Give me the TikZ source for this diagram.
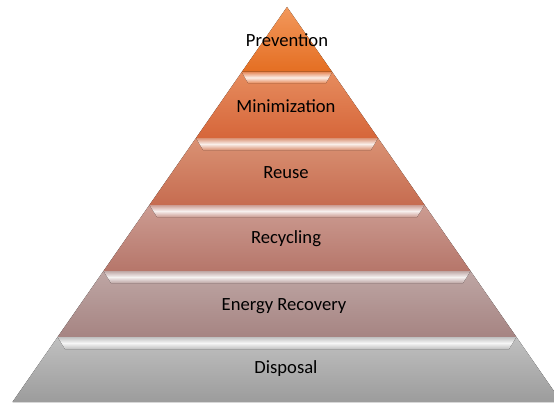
\documentclass[tikz,border=0pt]{standalone}
\usepackage{fontspec}
\setmainfont{Carlito}
\usetikzlibrary{positioning}

\definecolor{prevtop}{RGB}{242,152,92}
\definecolor{prevbot}{RGB}{228,110,34}
\definecolor{mintop}{RGB}{230,140,94}
\definecolor{minbot}{RGB}{214,102,58}
\definecolor{reusetop}{RGB}{218,146,116}
\definecolor{reusebot}{RGB}{198,108,80}
\definecolor{recytop}{RGB}{204,156,146}
\definecolor{recybot}{RGB}{182,118,106}
\definecolor{energytop}{RGB}{190,166,164}
\definecolor{energybot}{RGB}{166,132,130}
\definecolor{disptop}{RGB}{192,192,192}
\definecolor{dispbot}{RGB}{156,156,156}

\begin{document}
\begin{tikzpicture}[x=1pt, y=-1pt,
    band/.style={top color=#1, bottom color=#1, middle color=white!85!#1},
    lbl/.style={font=\fontsize{18.6}{22}\selectfont, text=black, inner sep=0pt}]
  \useasboundingbox (0,0) rectangle (554,404);
  \clip (0,0) rectangle (554,404);

  % levels, top to bottom
  \fill[top color=prevtop, bottom color=prevbot]
    (287,7) -- (332.2,72) -- (241.8,72) -- cycle;
  \fill[top color=mintop, bottom color=minbot]
    (241.8,72) -- (332.2,72) -- (378,138) -- (196,138) -- cycle;
  \fill[top color=reusetop, bottom color=reusebot]
    (196,138) -- (378,138) -- (424.6,205) -- (149.4,205) -- cycle;
  \fill[top color=recytop, bottom color=recybot]
    (149.4,205) -- (424.6,205) -- (470.5,271) -- (103.5,271) -- cycle;
  \fill[top color=energytop, bottom color=energybot]
    (103.5,271) -- (470.5,271) -- (516.4,337) -- (57.6,337) -- cycle;
  \fill[top color=disptop, bottom color=dispbot]
    (57.6,337) -- (516.4,337) -- (561.5,402) -- (12.5,402) -- cycle;

  % bevelled lips
  \fill[band=mintop]
    (241.8,72) -- (332.2,72) -- (326,83) -- (248,83) -- cycle;
  \fill[band=reusetop]
    (196,138) -- (378,138) -- (371,150) -- (203,150) -- cycle;
  \fill[band=recytop]
    (149.4,205) -- (424.6,205) -- (417,217) -- (157,217) -- cycle;
  \fill[band=energytop]
    (103.5,271) -- (470.5,271) -- (463,283) -- (111,283) -- cycle;
  \fill[band=disptop]
    (57.6,337) -- (516.4,337) -- (509,349) -- (65,349) -- cycle;

  % labels
  \node[lbl] (prevention) at (287,40) {Prevention};
  \node[lbl] (minimization) at (286,106) {Minimization};
  \node[lbl] (reuse) at (286,173) {Reuse};
  \node[lbl] (recycling) at (286,239) {Recycling};
  \node[lbl] (recovery) at (284,306) {Energy Recovery};
  \node[lbl] (disposal) at (286,369) {Disposal};
\end{tikzpicture}
\end{document}
